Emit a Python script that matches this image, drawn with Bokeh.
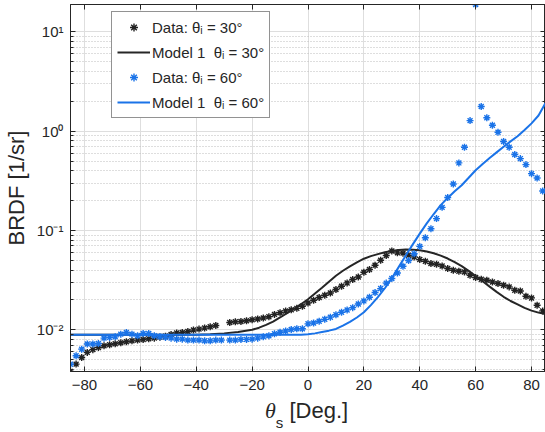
from bokeh.plotting import figure
from bokeh.layouts import column
from bokeh.models import (Range1d, FixedTicker, LinearAxis, LogAxis, Legend,
                          LegendItem, Div, CustomJSTickFormatter)
from bokeh.embed import file_html
from bokeh.resources import INLINE

# ---------------- data ----------------
black_theta = [-85, -83, -81, -79, -77, -75, -73, -71, -69, -67, -65, -63, -61,
               -59, -57, -55, -53, -51, -49, -47, -45, -43, -41, -39, -37, -35,
               -33, -28, -26, -24, -22, -20, -18, -16, -14, -12, -10, -8, -6,
               -4, -2, 0, 2, 4, 6, 8, 10, 12, 14, 16, 18, 20, 22, 24, 26, 28,
               30, 32, 34, 36, 38, 40, 42, 44, 46, 48, 50, 52, 54, 56, 58, 60,
               62, 64, 66, 68, 70, 72, 74, 76, 78, 80, 82, 84]
black_brdf = [0.00380, 0.00451, 0.00526, 0.00592, 0.00631, 0.00664, 0.00690,
              0.00706, 0.00723, 0.00740, 0.00757, 0.00774, 0.00787, 0.00798,
              0.00811, 0.00824, 0.00843, 0.00863, 0.00895, 0.00927, 0.00940,
              0.00962, 0.00993, 0.01016, 0.01040, 0.01072, 0.01104,
              0.01186, 0.01205, 0.01213, 0.01233, 0.01262, 0.01282, 0.01312,
              0.01352, 0.01429, 0.01486, 0.01549, 0.01592, 0.01644, 0.01726,
              0.01862, 0.01982, 0.02113, 0.02228, 0.02350, 0.02541, 0.02748,
              0.02965, 0.03206, 0.03404, 0.03802, 0.04046, 0.04467, 0.05023,
              0.05598, 0.06223, 0.05957, 0.05916, 0.05623, 0.05420, 0.05093,
              0.04898, 0.04645, 0.04571, 0.04395, 0.04140, 0.03981, 0.03890,
              0.03828, 0.03540, 0.03357, 0.03228, 0.03155, 0.03034, 0.02924,
              0.02812, 0.02704, 0.02500, 0.02460, 0.02178, 0.02094, 0.01766,
              0.01549]

blue_theta = [-85, -83, -81, -79, -77, -75, -73, -71, -69, -67, -65, -63, -61,
              -59, -57, -55, -53, -51, -49, -47, -45, -43, -41, -39, -37, -35,
              -33, -31, -28, -26, -24, -22, -20, -18, -16, -14, -12, -10, -8,
              -6, -4, -2, 0, 2, 4, 6, 8, 10, 12, 14, 16, 18, 20, 22, 24, 26,
              28, 30, 32, 34, 36, 38, 40, 42, 44, 46, 48, 50, 52, 54, 56, 58,
              60, 62, 64, 66, 68, 70, 72, 74, 76, 78, 80, 82, 84]
blue_brdf = [0.00449, 0.00547, 0.00638, 0.00718, 0.00718, 0.00728, 0.00824,
             0.00838, 0.00849, 0.00904, 0.00940, 0.00904, 0.00871, 0.00918,
             0.00918, 0.00871, 0.00849, 0.00838, 0.00824, 0.00805, 0.00805,
             0.00787, 0.00787, 0.00787, 0.00774, 0.00774, 0.00787, 0.00787,
             0.00787, 0.00787, 0.00800, 0.00800, 0.00805, 0.00824, 0.00849,
             0.00871, 0.00912, 0.00946, 0.00973, 0.01005, 0.01023, 0.01023,
             0.01148, 0.01172, 0.01219, 0.01274, 0.01340, 0.01419, 0.01503,
             0.01585, 0.01671, 0.01820, 0.01954, 0.02128, 0.02371, 0.02600,
             0.02951, 0.03289, 0.03733, 0.04365, 0.04989, 0.05834, 0.06918,
             0.08453, 0.1042, 0.1318, 0.1710, 0.2148, 0.2944, 0.4797, 0.6887,
             1.279, 18.9, 1.774, 1.365, 1.148, 0.977, 0.787, 0.689, 0.582,
             0.530, 0.461, 0.374, 0.338, 0.250]

model30_theta = [-85, -80, -75, -70, -65, -60, -55, -50, -45, -40, -35, -30,
                 -25, -20, -17.5, -15, -12.5, -10, -7.5, -5, -2.5, 0, 2.5, 5,
                 7.5, 10, 12.5, 15, 17.5, 20, 22.5, 25, 27.5, 30, 32.5, 35,
                 37.5, 40, 42.5, 45, 47.5, 50, 52.5, 55, 57.5, 60, 62.5, 65,
                 67.5, 70, 72.5, 75, 77.5, 80, 82.5, 85]
model30_brdf = [0.0089, 0.0089, 0.0089, 0.0089, 0.0089, 0.0089, 0.0089, 0.0089,
                0.0089, 0.00893, 0.0090, 0.0092, 0.0095, 0.0100, 0.0105,
                0.0112, 0.0121, 0.0133, 0.0147, 0.0163, 0.0181, 0.0203,
                0.0232, 0.0265, 0.0305, 0.0350, 0.0393, 0.0435, 0.0478,
                0.0520, 0.0552, 0.0578, 0.0603, 0.0622, 0.0635, 0.0642,
                0.0640, 0.0633, 0.0615, 0.0590, 0.0558, 0.0522, 0.0480,
                0.0437, 0.0392, 0.0348, 0.0308, 0.0272, 0.0241, 0.0215,
                0.0195, 0.0180, 0.0166, 0.0156, 0.0149, 0.0144]

model60_theta = [-85, -80, -75, -70, -65, -60, -55, -50, -45, -40, -35, -30,
                 -25, -20, -15, -10, -5, -2.5, 0, 2.5, 5, 7.5, 10, 12.5, 15,
                 17.5, 20, 22.5, 25, 27.5, 30, 32.5, 35, 37.5, 40, 42.5, 45,
                 47.5, 50, 52.5, 55, 57.5, 60, 62.5, 65, 67.5, 70, 72.5, 75,
                 77.5, 80, 82.5, 85]
model60_brdf = [0.0089, 0.0089, 0.0089, 0.0089, 0.0089, 0.0089, 0.0089, 0.0089,
                0.0089, 0.0089, 0.0089, 0.0089, 0.0089, 0.0089, 0.0089, 0.0089,
                0.0089, 0.0089, 0.0090, 0.0092, 0.0095, 0.0098, 0.0102, 0.0110,
                0.0120, 0.0133, 0.0150, 0.0177, 0.0213, 0.0262, 0.0330, 0.0430,
                0.0560, 0.0725, 0.0930, 0.118, 0.1466, 0.180, 0.213, 0.248,
                0.286, 0.340, 0.405, 0.468, 0.537, 0.612, 0.697, 0.790, 0.891,
                1.03, 1.20, 1.44, 1.92]

x_ticks = [-80, -60, -40, -20, 0, 20, 40, 60, 80]
y_ticks = [0.01, 0.1, 1, 10]
y_tick_labels = ["10\u207b\u00b2", "10\u207b\u00b9", "10\u2070", "10\u00b9"]
legend_labels = ["Data: \u03b8\u1d62 = 30\u00b0", "Model 1  \u03b8\u1d62 = 30\u00b0",
                 "Data: \u03b8\u1d62 = 60\u00b0", "Model 1  \u03b8\u1d62 = 60\u00b0"]
x_label_symbol = "\u03b8"
x_label_sub = "s"
x_label_unit = "[Deg.]"
y_label = "BRDF [1/sr]"

# ---------------- styling ----------------
AX = "#262626"
BLACK = "#222222"
BLUE = "#1a73e8"
FONT = "Liberation Sans"

y_minor = [m * 10.0 ** e for e in range(-3, 2) for m in range(2, 10)]
xticker = FixedTicker(ticks=x_ticks)
yticker = FixedTicker(ticks=y_ticks, minor_ticks=y_minor)

p = figure(width=545, height=400, output_backend="svg", toolbar_location=None,
           y_axis_type="log", x_range=Range1d(-85, 85),
           y_range=Range1d(0.0038, 18.9),
           min_border_left=67, min_border_right=0, min_border_top=4,
           min_border_bottom=29)
p.background_fill_color = "white"
p.border_fill_color = "white"
p.outline_line_color = AX
p.outline_line_width = 1

# bottom axis
xa = p.xaxis[0]
xa.ticker = xticker
xa.major_tick_in = 5
xa.major_tick_out = 0
xa.minor_tick_line_color = None
xa.axis_line_color = AX
xa.major_tick_line_color = AX
xa.major_label_text_font = FONT
xa.major_label_text_font_size = "15px"
xa.major_label_text_color = AX
xa.major_label_standoff = 8

# left axis
ya = p.yaxis[0]
ya.ticker = yticker
ya.major_tick_in = 5
ya.major_tick_out = 0
ya.minor_tick_in = 3
ya.minor_tick_out = 0
ya.axis_line_color = AX
ya.major_tick_line_color = AX
ya.minor_tick_line_color = AX
ya.major_label_overrides = dict(zip(y_ticks, y_tick_labels))
ya.major_label_text_font = FONT
ya.major_label_text_font_size = "15px"
ya.major_label_text_color = AX
ya.major_label_standoff = 7
ya.axis_label = y_label
ya.axis_label_text_font = FONT
ya.axis_label_text_font_style = "normal"
ya.axis_label_text_font_size = "22px"
ya.axis_label_text_color = AX
ya.axis_label_standoff = 5

# top / right box axes (ticks only, no labels)
blank = CustomJSTickFormatter(code="return ''")
top = LinearAxis(ticker=xticker, formatter=blank, major_tick_in=5,
                 major_tick_out=0, minor_tick_line_color=None,
                 major_label_text_color=None, major_label_text_font_size="1px",
                 major_label_standoff=0, axis_line_color=AX,
                 major_tick_line_color=AX)
right = LogAxis(ticker=yticker, formatter=blank, major_tick_in=5,
                major_tick_out=0, minor_tick_in=3, minor_tick_out=0,
                major_label_text_color=None, major_label_text_font_size="1px",
                major_label_standoff=0, axis_line_color=AX,
                major_tick_line_color=AX, minor_tick_line_color=AX)
p.add_layout(top, "above")
p.add_layout(right, "right")

# grids
p.xgrid.ticker = xticker
p.xgrid.grid_line_color = "#dedede"
p.ygrid.ticker = yticker
p.ygrid.grid_line_color = "#dedede"
p.ygrid.minor_grid_line_color = "#bdbdbd"
p.ygrid.minor_grid_line_dash = "1 2"

# ---------------- glyphs ----------------
r1 = p.scatter(black_theta, black_brdf, marker="asterisk", size=7,
               line_color=BLACK, line_width=1.4)
r2 = p.line(model30_theta, model30_brdf, line_color=AX, line_width=2)
r3 = p.scatter(blue_theta, blue_brdf, marker="asterisk", size=7,
               line_color=BLUE, line_width=1.4)
r4 = p.line(model60_theta, model60_brdf, line_color=BLUE, line_width=2)

legend = Legend(items=[LegendItem(label=legend_labels[0], renderers=[r1]),
                       LegendItem(label=legend_labels[1], renderers=[r2]),
                       LegendItem(label=legend_labels[2], renderers=[r3]),
                       LegendItem(label=legend_labels[3], renderers=[r4])],
                location=(41, 253), label_text_font=FONT,
                label_text_font_size="15px", label_text_color=AX,
                glyph_width=33, glyph_height=20, label_height=20,
                spacing=5, padding=5, margin=0, label_standoff=2,
                border_line_color=AX, border_line_width=1,
                background_fill_color="white", background_fill_alpha=1)
p.add_layout(legend)

# x axis label (theta italic serif, subscript s, unit) as HTML below the plot
xlabel_html = (
    '<div style="padding-left:265px; white-space:nowrap; line-height:22px; '
    'color:#262626; font-family:\'Liberation Sans\', sans-serif; font-size:22px;">'
    '<span style="font-family:\'Liberation Serif\', serif; font-style:italic;">'
    + x_label_symbol + '</span>'
    '<span style="font-size:15px; vertical-align:-10px; line-height:15px;">'
    + x_label_sub + '</span> ' + x_label_unit + '</div>'
)
xlabel = Div(text=xlabel_html, width=545, height=32, margin=0)

layout = column(p, xlabel, spacing=0)
open("out.html", "w").write(file_html(layout, INLINE))
